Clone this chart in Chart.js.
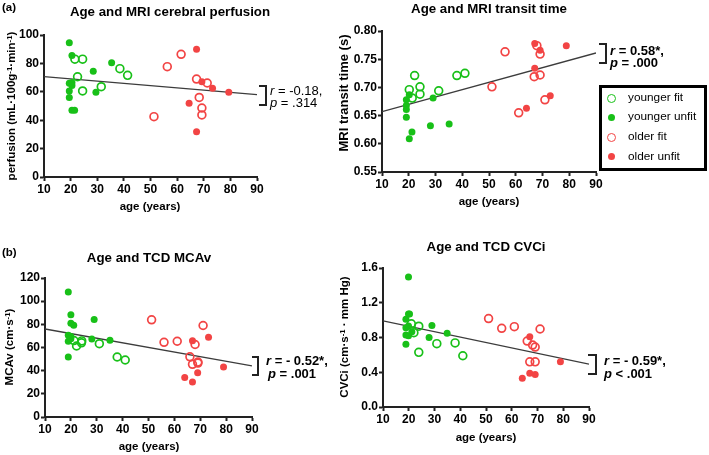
<!DOCTYPE html>
<html>
<head>
<meta charset="utf-8">
<script src="https://cdn.jsdelivr.net/npm/chart.js@4.4.0/dist/chart.umd.min.js"></script>
<style>
    html, body { margin: 0; padding: 0; background: #fff; }
    #page { position: relative; width: 709px; height: 455px; overflow: hidden;
            font-family: "Liberation Sans", Arial, sans-serif; color: #000; }
    #page canvas { position: absolute; left: 0; top: 0; }
    .txt { position: absolute; white-space: nowrap; line-height: 1; }
    .tag { font-weight: bold; font-size: 11.5px; transform: translateY(-50%); }
    .title { font-weight: bold; font-size: 13.3px; transform: translate(-50%, -50%); }
    .xtitle { font-weight: bold; font-size: 11.5px; transform: translate(-50%, -50%); }
    .ytitle { font-weight: bold; font-size: 11.5px; transform: translate(-50%, -50%) rotate(-90deg); }
    .stat { font-size: 13px; transform: translateY(-50%); }
    .stat.b { font-weight: bold; }
    .bracket { position: absolute; box-sizing: border-box; border: 2px solid #222; border-left: none; }
    sup { font-size: 0.68em; line-height: 0; vertical-align: 0.45em; }
    #legend { position: absolute; left: 599px; top: 85px; width: 108px; height: 86px;
              box-sizing: border-box; border: 3px solid #000; }
    .lg-item { position: absolute; left: 0; font-size: 11.8px; white-space: nowrap; }
    .lg-mark { position: absolute; border-radius: 50%; box-sizing: border-box; }
</style>
</head>
<body>
<div id="page">
    <canvas id="chartA" width="709" height="455"></canvas>
    <canvas id="chartB" width="709" height="455"></canvas>
    <canvas id="chartC" width="709" height="455"></canvas>
    <canvas id="chartD" width="709" height="455"></canvas>

    <div class="txt tag" style="left:2px; top:8px;">(a)</div>
    <div class="txt tag" style="left:2px; top:253px;">(b)</div>

    <div class="txt title" style="left:170px; top:12px;">Age and MRI cerebral perfusion</div>
    <div class="txt title" style="left:489px; top:9px;">Age and MRI transit time</div>
    <div class="txt title" style="left:149px; top:258px;">Age and TCD MCAv</div>
    <div class="txt title" style="left:486px; top:247px;">Age and TCD CVCi</div>

    <div class="txt ytitle" style="left:12px; top:106px;">perfusion (mL·100g<sup>-1</sup>·min<sup>-1</sup>)</div>
    <div class="txt ytitle" style="left:343px; top:93px; font-size:13px;">MRI transit time (s)</div>
    <div class="txt ytitle" style="left:10px; top:347px;">MCAv (cm·s<sup>-1</sup>)</div>
    <div class="txt ytitle" style="left:345px; top:337px;">CVCi (cm·s<sup>-1</sup> · mm Hg)</div>

    <div class="txt xtitle" style="left:150px; top:207px;">age (years)</div>
    <div class="txt xtitle" style="left:489px; top:202px;">age (years)</div>
    <div class="txt xtitle" style="left:149px; top:447px;">age (years)</div>
    <div class="txt xtitle" style="left:486px; top:438px;">age (years)</div>

    <!-- correlation notes beside each fit line -->
    <div class="bracket" style="left:259px; top:85px; width:8px; height:21px;"></div>
    <div class="txt stat" style="left:270px; top:90px;"><i>r</i> = -0.18,</div>
    <div class="txt stat" style="left:270px; top:101.5px;"><i>p</i> = .314</div>

    <div class="bracket" style="left:599px; top:43px; width:8px; height:21px;"></div>
    <div class="txt stat b" style="left:610px; top:50px;"><i>r</i> = 0.58*,</div>
    <div class="txt stat b" style="left:610px; top:62px;"><i>p</i> = .000</div>

    <div class="bracket" style="left:252px; top:356px; width:7px; height:20px;"></div>
    <div class="txt stat b" style="left:266px; top:360px;"><i>r</i> = - 0.52*,</div>
    <div class="txt stat b" style="left:268px; top:373px;"><i>p</i> = .001</div>

    <div class="bracket" style="left:588px; top:354px; width:9px; height:21px;"></div>
    <div class="txt stat b" style="left:604px; top:360px;"><i>r</i> = - 0.59*,</div>
    <div class="txt stat b" style="left:604px; top:373px;"><i>p</i> &lt; .001</div>

    <div id="legend"></div>
</div>

<script>
// tick values
const ageTicks = [10, 20, 30, 40, 50, 60, 70, 80, 90];
const perfusionTicks = [0, 20, 40, 60, 80, 100];
const transitTicks = [0.55, 0.60, 0.65, 0.70, 0.75, 0.80];
const mcavTicks = [0, 20, 40, 60, 80, 100, 120];
const cvciTicks = [0.0, 0.4, 0.8, 1.2, 1.6];

const groupNames = ['younger fit', 'younger unfit', 'older fit', 'older unfit'];

// [age, value]
const perfYoungerFit = [[21.6, 83], [24.5, 83], [22.6, 70.6], [24.5, 60.6], [31.5, 63.6], [38.5, 76.3], [41.4, 71.6]];
const perfYoungerUnfit = [[19.5, 94.5], [20.5, 85.5], [19.5, 66], [20.5, 66.5], [20.5, 64.5], [19.5, 60.5], [19.5, 56],
    [20.5, 47], [21.5, 47], [28.5, 74.5], [29.5, 59.6], [35.4, 80.5]];
const perfOlderFit = [[51.3, 42.5], [56.3, 77.7], [61.5, 86.4], [67.3, 69], [68.3, 56], [69.3, 48.6], [69.3, 43.7], [71.3, 66.2]];
const perfOlderUnfit = [[67.3, 90], [69.3, 67], [73.3, 62.5], [79.4, 59.6], [64.5, 52], [67.3, 31.9]];
const perfFit = [[10, 70.7], [90, 58]];

const transitYoungerFit = [[22.2, 0.721], [20.2, 0.696], [24.2, 0.701], [24.2, 0.688], [21.3, 0.681], [31.2, 0.694], [38, 0.721], [41, 0.725]];
const transitYoungerUnfit = [[19.1, 0.678], [19.1, 0.668], [19.1, 0.661], [19.1, 0.647], [21.2, 0.621], [20.2, 0.609],
    [28.1, 0.632], [35.1, 0.635], [29.1, 0.681], [20.2, 0.687]];
const transitOlderFit = [[56, 0.763], [51.1, 0.701], [61.1, 0.655], [66.9, 0.719], [69.1, 0.722], [70.9, 0.678], [67.9, 0.774], [69.1, 0.759]];
const transitOlderUnfit = [[67.1, 0.778], [69.1, 0.766], [67.1, 0.734], [64, 0.663], [72.9, 0.685], [78.9, 0.774]];
const transitFit = [[10, 0.657], [90, 0.761]];

const mcavYoungerFit = [[21.2, 66], [22.2, 61.3], [24.2, 65.7], [24.1, 64], [31, 63.3], [37.9, 51.8], [41, 49.2]];
const mcavYoungerUnfit = [[19, 107.9], [20, 88.3], [20, 81], [21.1, 79.3], [29, 84.1], [19, 70.5], [20, 69.4], [19, 65.3],
    [19, 51.8], [28.1, 67.4], [35.1, 66.2], [20, 67.5]];
const mcavOlderFit = [[51.2, 83.9], [56, 64.5], [61.1, 65.4], [71.1, 79], [66, 52], [68, 62.6], [67, 45.5], [69.1, 47.4], [69.1, 46.6]];
const mcavOlderUnfit = [[67, 65.9], [73.2, 68.9], [64, 34.1], [67, 30.2], [69, 38.3], [79, 43.1]];
const mcavFit = [[10, 76], [90, 44.2]];

const cvciYoungerFit = [[21, 0.958], [23.9, 0.93], [22, 0.856], [30.9, 0.729], [38, 0.738], [23.9, 0.629], [41, 0.59]];
const cvciYoungerUnfit = [[19.9, 1.497], [19.9, 1.07], [20.3, 1.07], [18.9, 1.011], [18.9, 0.912], [19.9, 0.933], [18.9, 0.829],
    [19.9, 0.82], [21.2, 0.866], [18.9, 0.722], [29, 0.937], [27.9, 0.799], [34.9, 0.85]];
const cvciOlderFit = [[51, 1.018], [56.1, 0.906], [61, 0.925], [71, 0.898], [66, 0.759], [68.1, 0.713], [69.1, 0.69], [67, 0.52], [69.1, 0.52]];
const cvciOlderUnfit = [[67, 0.81], [78.9, 0.52], [64.1, 0.332], [67, 0.389], [69.1, 0.374]];
const cvciFit = [[10, 0.991], [90, 0.493]];

const GREEN = '#18c018';
const RED = '#f24444';
const AXIS = '#222';
const Y_AXIS_W = 40;
const X_AXIS_H = 20;

Chart.defaults.font.family = '"Liberation Sans", Arial, sans-serif';
Chart.defaults.color = '#000';

function toPoints(arr) {
    return arr.map(function (p) { return { x: p[0], y: p[1] }; });
}

function groupStyle(i) {
    const color = i < 2 ? GREEN : RED;
    const open = i % 2 === 0;
    return {
        pointRadius: open ? 3.9 : 3.5,
        pointBorderWidth: open ? 1.7 : 0,
        pointBackgroundColor: open ? 'rgba(255,255,255,0)' : color,
        pointBorderColor: color
    };
}

// area = pixel box of the plot frame on the page
function makePanel(id, groups, fitLine, yTicks, decimals, area) {
    const datasets = groups.map(function (pts, i) {
        return Object.assign({ type: 'scatter', label: groupNames[i], data: toPoints(pts) }, groupStyle(i));
    });
    datasets.push({
        type: 'line', label: 'fit', data: toPoints(fitLine),
        borderColor: '#3c3c3c', borderWidth: 1.3, pointRadius: 0, fill: false
    });

    const ctx = document.getElementById(id).getContext('2d');
    return new Chart(ctx, {
        type: 'scatter',
        data: { datasets: datasets },
        options: {
            responsive: false,
            animation: false,
            layout: {
                padding: {
                    left: area.left - Y_AXIS_W,
                    top: area.top,
                    right: 709 - area.right,
                    bottom: 455 - area.bottom - X_AXIS_H
                }
            },
            plugins: { legend: { display: false }, tooltip: { enabled: false } },
            scales: {
                x: {
                    type: 'linear',
                    min: ageTicks[0],
                    max: ageTicks[ageTicks.length - 1],
                    afterBuildTicks: function (s) { s.ticks = ageTicks.map(function (v) { return { value: v }; }); },
                    afterFit: function (s) { s.height = X_AXIS_H; },
                    ticks: { font: { size: 12, weight: 'bold' }, padding: 1, maxRotation: 0, color: '#000' },
                    grid: { drawOnChartArea: false, tickLength: 4, tickWidth: 2, tickColor: AXIS },
                    border: { color: AXIS, width: 2 }
                },
                y: {
                    type: 'linear',
                    min: yTicks[0],
                    max: yTicks[yTicks.length - 1],
                    afterBuildTicks: function (s) { s.ticks = yTicks.map(function (v) { return { value: v }; }); },
                    afterFit: function (s) { s.width = Y_AXIS_W; },
                    ticks: {
                        font: { size: 12, weight: 'bold' }, padding: 1, color: '#000',
                        callback: function (v) { return Number(v).toFixed(decimals); }
                    },
                    grid: { drawOnChartArea: false, tickLength: 4, tickWidth: 2, tickColor: AXIS },
                    border: { color: AXIS, width: 2 }
                }
            }
        }
    });
}

function buildLegend() {
    const box = document.getElementById('legend');
    const rows = [13.3, 32.3, 52.3, 71.7];
    groupNames.forEach(function (name, i) {
        const st = groupStyle(i);
        const item = document.createElement('div');
        item.className = 'lg-item';
        item.style.top = (rows[i] - 3) + 'px';
        const mark = document.createElement('span');
        mark.className = 'lg-mark';
        const d = st.pointRadius * 2 + st.pointBorderWidth;
        mark.style.width = d + 'px';
        mark.style.height = d + 'px';
        mark.style.left = (9.7 - d / 2) + 'px';
        mark.style.top = (-d / 2) + 'px';
        mark.style.background = st.pointBackgroundColor;
        mark.style.border = st.pointBorderWidth ? (st.pointBorderWidth + 'px solid ' + st.pointBorderColor) : 'none';
        const label = document.createElement('span');
        label.className = 'txt';
        label.style.left = '26px';
        label.style.top = '-6px';
        label.textContent = name;
        item.appendChild(mark);
        item.appendChild(label);
        box.appendChild(item);
    });
}

makePanel('chartA', [perfYoungerFit, perfYoungerUnfit, perfOlderFit, perfOlderUnfit], perfFit, perfusionTicks, 0,
    { left: 44, top: 35, right: 257, bottom: 177 });
makePanel('chartB', [transitYoungerFit, transitYoungerUnfit, transitOlderFit, transitOlderUnfit], transitFit, transitTicks, 2,
    { left: 382, top: 31, right: 596, bottom: 172 });
makePanel('chartC', [mcavYoungerFit, mcavYoungerUnfit, mcavOlderFit, mcavOlderUnfit], mcavFit, mcavTicks, 0,
    { left: 45, top: 278, right: 252, bottom: 417 });
makePanel('chartD', [cvciYoungerFit, cvciYoungerUnfit, cvciOlderFit, cvciOlderUnfit], cvciFit, cvciTicks, 1,
    { left: 383, top: 268, right: 589, bottom: 407 });
buildLegend();
</script>
</body>
</html>
